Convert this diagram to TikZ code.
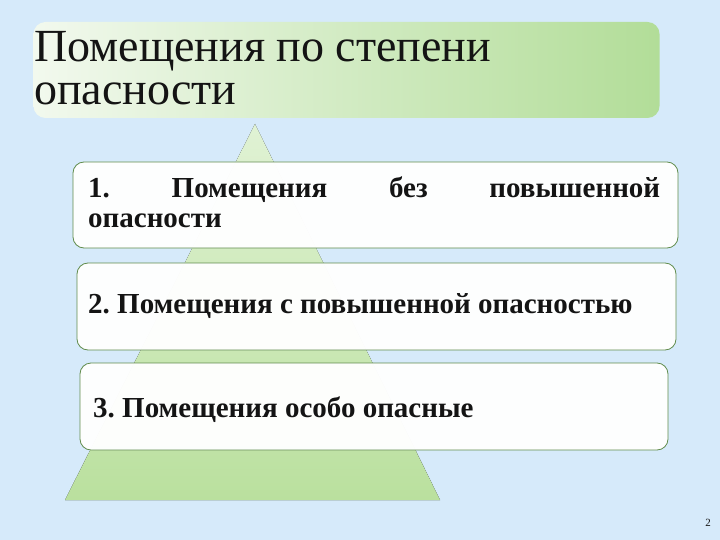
\documentclass[tikz,border=0pt]{standalone}
\usepackage{fontspec}
\setmainfont{Liberation Serif}
\frenchspacing
\definecolor{bgblue}{RGB}{214,234,250}
\definecolor{pyrtop}{RGB}{224,242,212}
\definecolor{pyrbot}{RGB}{186,224,158}
\definecolor{titleleft}{RGB}{242,249,238}
\definecolor{titleright}{RGB}{178,221,152}
\definecolor{boxline}{RGB}{96,140,76}
\definecolor{txt}{RGB}{20,20,20}
\tikzset{
  levelbox/.style={draw=boxline, line width=0.8pt, fill=white, fill opacity=0.97,
    rounded corners=11pt, inner sep=0pt},
  leveltext/.style={text=txt, inner sep=0pt, font=\fontsize{29}{30}\selectfont\bfseries},
}
\begin{document}
\begin{tikzpicture}[x=1pt,y=-1pt]
\useasboundingbox (0,0) rectangle (720,540);
\fill[bgblue] (0,0) rectangle (720,540);
% title box
\node[draw=none, rounded corners=12pt, left color=titleleft, right color=titleright,
  minimum width=626pt, minimum height=96pt, inner sep=0pt] (titlebox) at (346.5,70) {};
\node[anchor=base west, text=txt, inner sep=0pt, align=left,
  font=\fontsize{46}{43}\selectfont] (title) at (34,105)
  {Помещения по степени\\опасности};
% pyramid
\coordinate (apex) at (255,124);
\coordinate (bl) at (65,500);
\coordinate (br) at (440,500);
\fill[top color=pyrtop, bottom color=pyrbot] (apex) -- (br) -- (bl) -- cycle;
% level boxes
\node[levelbox, minimum width=605pt, minimum height=86pt] (box1) at (375.5,205) {};
\node[levelbox, minimum width=599pt, minimum height=87pt] (box2) at (376.5,306.5) {};
\node[levelbox, minimum width=588pt, minimum height=87pt] (box3) at (374,406.5) {};
% texts
\node[leveltext, anchor=base west, text width=572pt, align=justify] (t1) at (88,198)
  {1. Помещения без повышенной\linebreak опасности};
\node[leveltext, anchor=base west] (t2) at (88,313) {2. Помещения с повышенной опасностью};
\node[leveltext, anchor=base west] (t3) at (93,417) {3. Помещения особо опасные};
% page number
\node[text=txt, inner sep=0pt, font=\fontsize{11}{11}\selectfont] (pnum) at (708,523) {2};
\end{tikzpicture}
\end{document}
